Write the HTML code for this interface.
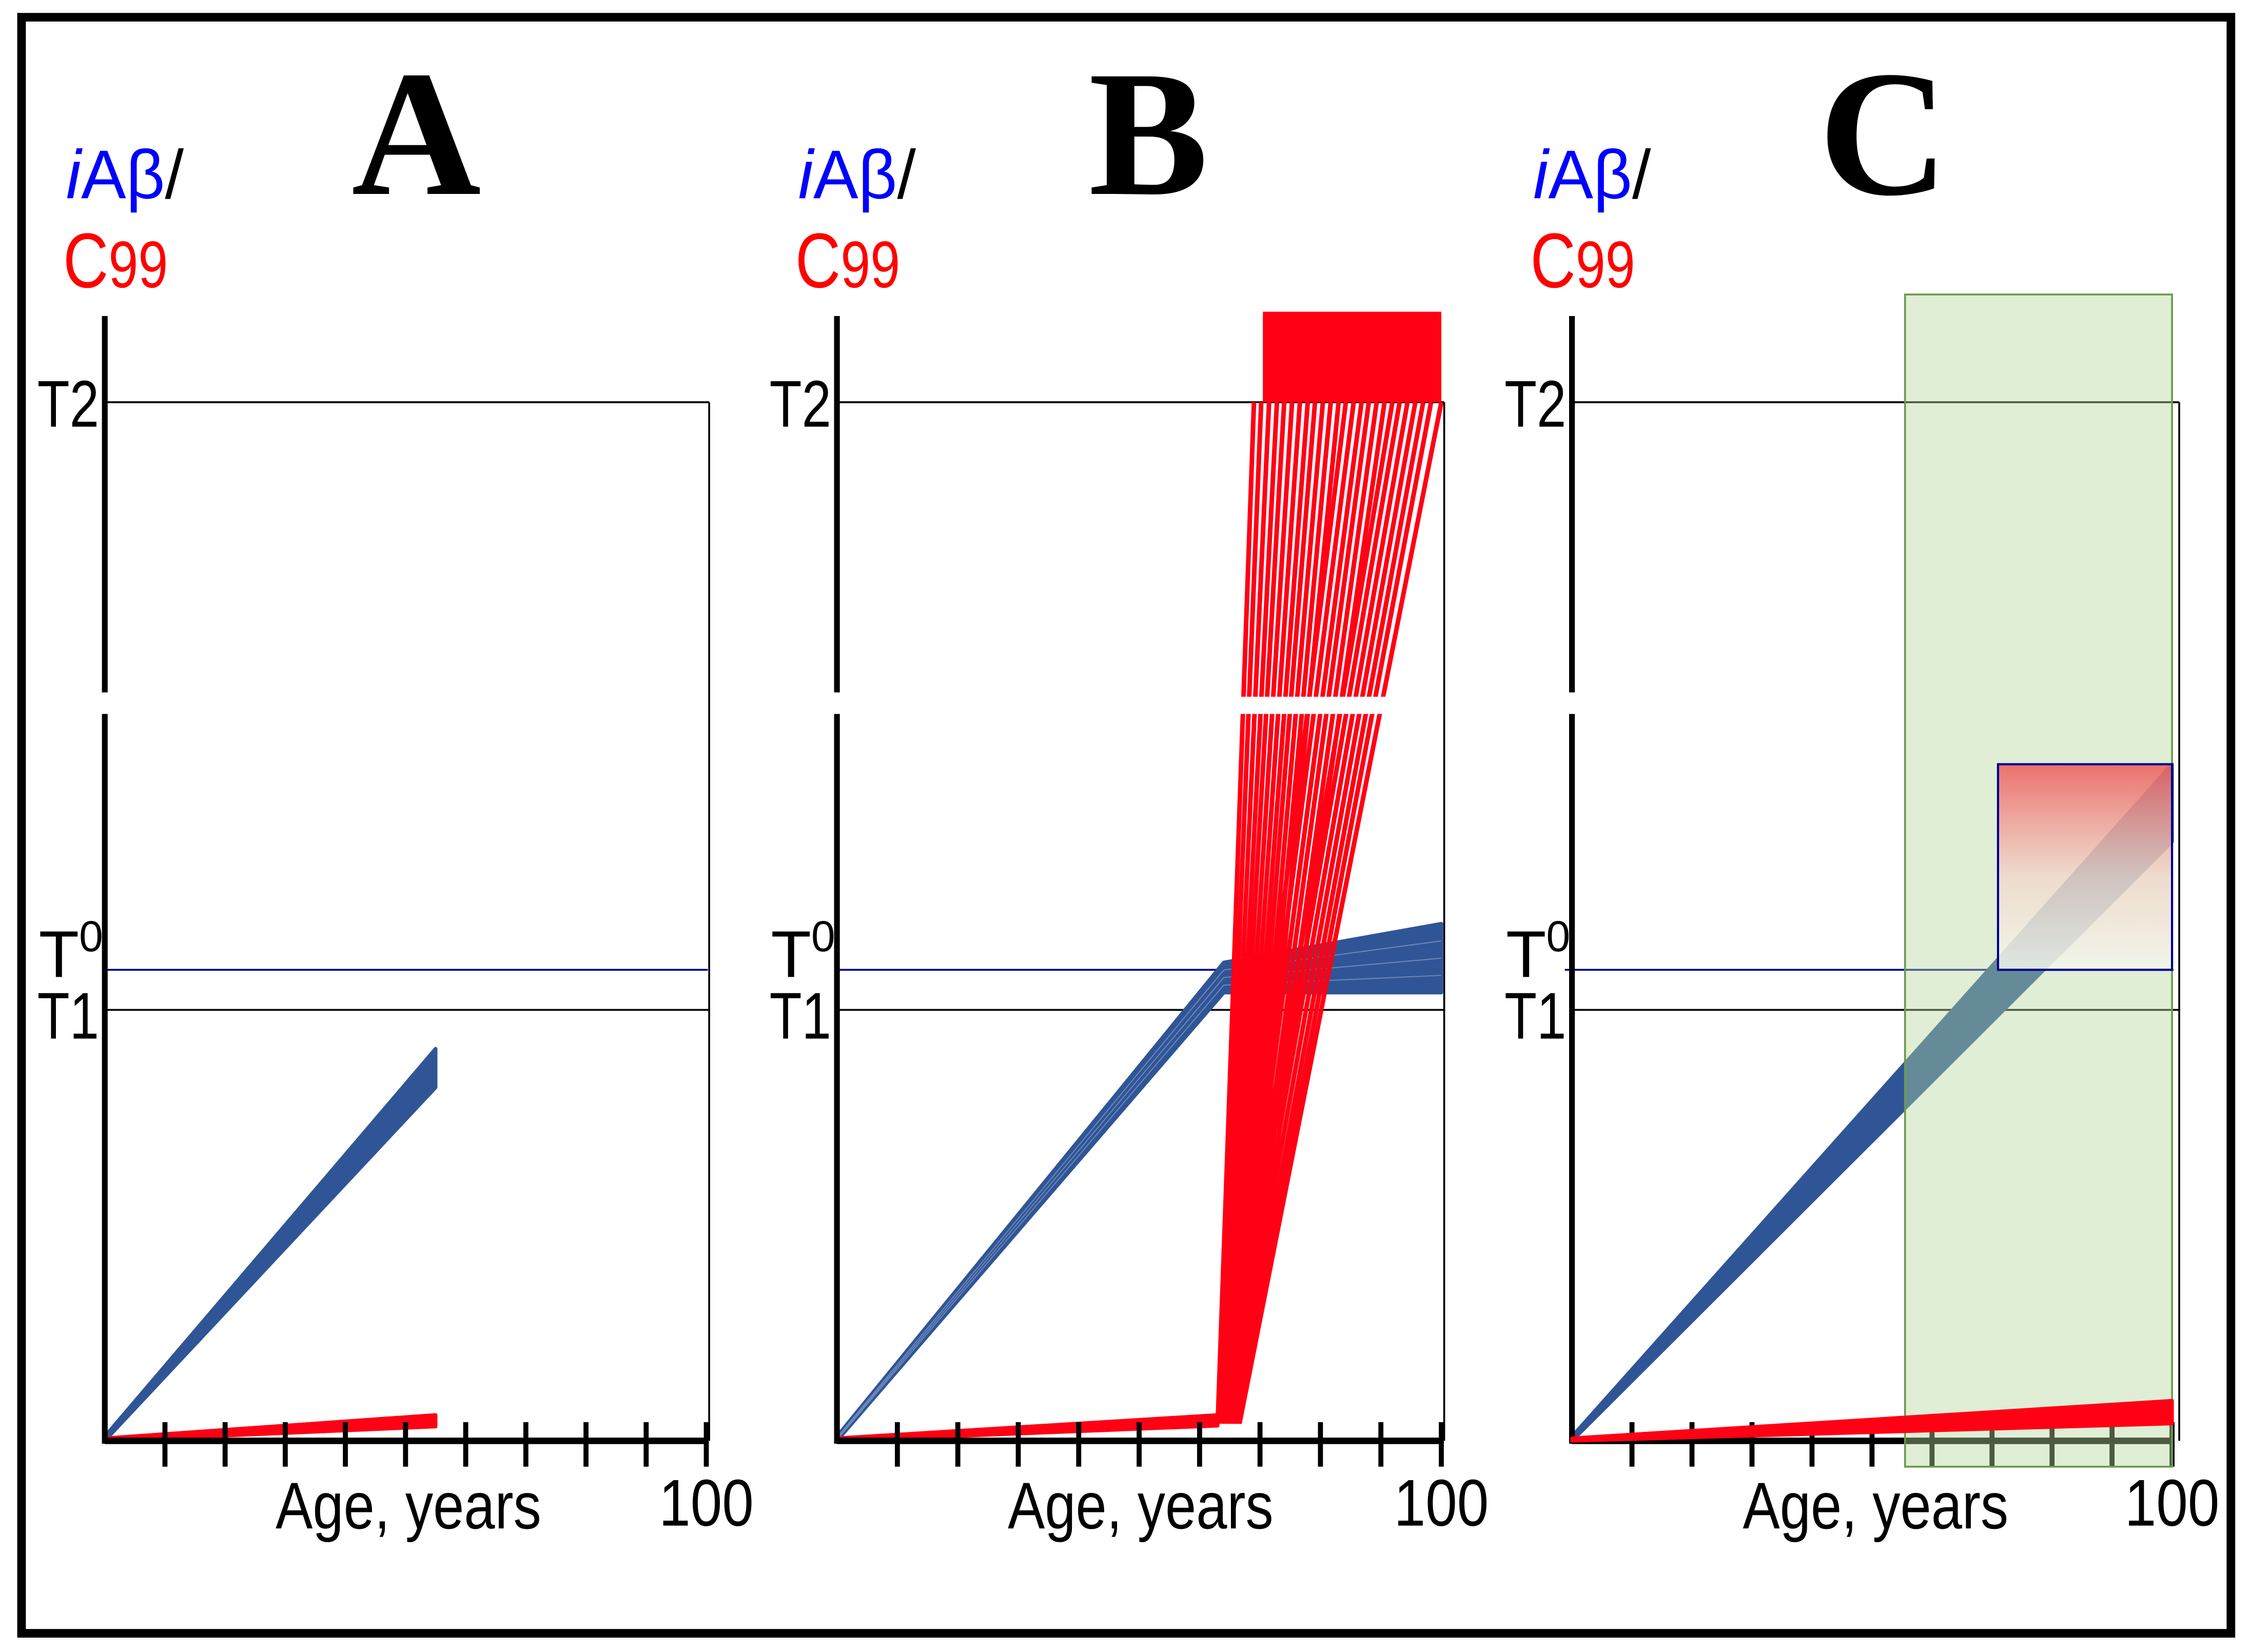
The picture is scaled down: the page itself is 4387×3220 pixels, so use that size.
<!DOCTYPE html>
<html><head><meta charset="utf-8"><style>
html,body{margin:0;padding:0;background:#fff;}
svg{display:block;}
</style></head><body>
<svg id="fig" width="4387" height="3220" viewBox="0 0 1568 1150" preserveAspectRatio="none" xmlns="http://www.w3.org/2000/svg" font-family="Liberation Sans, DejaVu Sans, sans-serif">
<defs>
<linearGradient id="boxgrad" x1="0" y1="0" x2="0" y2="1">
<stop offset="0" stop-color="#ee5a5a" stop-opacity="0.85"/>
<stop offset="0.55" stop-color="#f3d6cc" stop-opacity="0.75"/>
<stop offset="1" stop-color="#f4f8ee" stop-opacity="0.85"/>
</linearGradient>
</defs>
<rect x="15" y="12" width="1539" height="1125" fill="none" stroke="#000" stroke-width="6"/>
<g id="plots"></g>
</svg>
<script>
// ---- data ----
const panels = ['A','B','C'];
const axisX0 = [73, 583, 1095];
const axisX1 = [492, 1004, 1513];
const tickAges = [10,20,30,40,50,60,70,80,90,100];
const T1 = 1.0, T0 = 1.093, T2 = 2.41;
const aBlueAges = [0, 55];
const aBlueTop = [0.01, 0.91];
const aBlueBot = [0, 0.82];
const aRedAges = [0, 55];
const aRedTop = [0.006, 0.06];
const aRedBot = [0, 0.033];
const bBlueAges = [0, 64, 100];
const bBlueTop = [0.01, 1.11, 1.2];
const bBlueBot = [0, 1.04, 1.04];
const bRedAges = [0, 63];
const bRedTop = [0.006, 0.06];
const bRedBot = [0, 0.035];
const bFanStartAges = [63,63.3,63.6,63.9,64.2,64.5,64.8,65.1,65.4,65.7,66,66.3,63.2,63.8,64.4,65,65.6,66.2,63.5,64.1,64.7,65.3,65.9,66.4,66.6];
const bFanEndAges = [69,70.2,71.5,72.8,74,75.3,76.6,77.9,79.1,80.4,81.7,83,84.2,85.5,86.8,88,89.3,90.6,91.9,93.1,94.4,95.7,97,98.3,100];
const bFanStartVal = 0.04;
const bCapAges = [70, 100];
const bCapVals = [2.41, 2.62];
const cBlueAges = [0, 100];
const cBlueTop = [0.01, 1.57];
const cBlueBot = [0, 1.39];
const cRedAges = [0, 100];
const cRedTop = [0.006, 0.093];
const cRedBot = [0, 0.04];
const cGreenAges = [55.5, 100];
const cGreenVals = [-0.06, 2.66];
const cBoxAges = [71, 100];
const cBoxVals = [T0, 1.57];

// ---- helpers ----
const NS = 'http://www.w3.org/2000/svg';
const root = document.getElementById('plots');
function xs(p, age){ return axisX0[p] + (axisX1[p]-axisX0[p]) * age/100; }
function ys(v){ return 1003 - v*300; }
function mk(tag, attrs, parent){
  const e = document.createElementNS(NS, tag);
  for (const k in attrs) e.setAttribute(k, attrs[k]);
  (parent||root).appendChild(e);
  return e;
}
function band(p, ages, top, bot, fill){
  let pts = [];
  for (let i=0;i<ages.length;i++) pts.push(xs(p,ages[i])+','+ys(top[i]));
  for (let i=ages.length-1;i>=0;i--) pts.push(xs(p,ages[i])+','+ys(bot[i]));
  return mk('polygon',{points:pts.join(' '),fill:fill,stroke:fill,'stroke-width':2.5,'stroke-linejoin':'round'});
}
function seriesBand(p, ages, top, bot, color, name){
  const e = band(p, ages, top, bot, color);
  
  
}

panels.forEach((name,p)=>{
  const g = mk('g',{});
  
  
  const x0 = axisX0[p], x1 = axisX1[p];
  const t = mk('text',{x:x0+217,y:135,'font-size':125,'font-weight':'bold','font-family':'Liberation Serif, DejaVu Serif, serif','text-anchor':'middle'},g);
  t.textContent = name;
  
  
  const yl = mk('text',{x:x0-27,y:138,'font-size':48,textLength:82,lengthAdjust:'spacingAndGlyphs'},g);
  yl.innerHTML = '<tspan fill="#0000ff" font-style="italic">i</tspan><tspan fill="#0000ff">Aβ</tspan><tspan fill="#000">/</tspan>';
  
  
  const yl2 = mk('text',{x:x0-29,y:200,'font-size':54,fill:'#ff0000',textLength:73,lengthAdjust:'spacingAndGlyphs'},g);
  yl2.innerHTML = 'C<tspan font-size="46">99</tspan>';
  
  
  const rightEnd = p===2 ? 1518 : x1+2;
  const l2 = mk('line',{x1:x0,y1:ys(T2),x2:rightEnd,y2:ys(T2),stroke:'#000','stroke-width':1.3},g);
  
  
  const l0 = mk('line',{x1:p===2?x0-5:x0,y1:ys(T0),x2:x1+1,y2:ys(T0),stroke:'#00008b','stroke-width':1.3},g);
  
  
  const l1 = mk('line',{x1:x0,y1:ys(T1),x2:rightEnd,y2:ys(T1),stroke:'#000','stroke-width':1.3},g);
  
  
  const rl = mk('line',{x1:rightEnd,y1:ys(T2),x2:rightEnd,y2:1003,stroke:'#000','stroke-width':1.3},g);
  
  
  const labs = [['T2',ys(T2)+17,'t2'],['T1',ys(T1)+20,'t1']];
  labs.forEach(L=>{
    const e = mk('text',{x:x0-47,y:L[1],'font-size':46,textLength:43,lengthAdjust:'spacingAndGlyphs'},g);
    e.textContent = L[0];
    
    
  });
  const t0l = mk('text',{x:x0-46,y:ys(T0)+5,'font-size':46},g);
  t0l.innerHTML = 'T<tspan font-size="30" dy="-18">0</tspan>';
  
  
  const xl = mk('text',{x:x0+119,y:1064,'font-size':46,textLength:185,lengthAdjust:'spacingAndGlyphs'},g);
  xl.textContent = 'Age, years';
  
  
  const hl = mk('text',{x:x1-33,y:1062,'font-size':46,textLength:66,lengthAdjust:'spacingAndGlyphs'},g);
  hl.textContent = '100';
  
  
});

seriesBand(0, aBlueAges, aBlueTop, aBlueBot, '#2f5597', 'iabeta-band-a');
seriesBand(0, aRedAges, aRedTop, aRedBot, '#ff0015', 'c99-band-a');
seriesBand(1, bBlueAges, bBlueTop, bBlueBot, '#2f5597', 'iabeta-band-b');
for (let i=1;i<4;i++){
  const f = i/4;
  const pl = mk('polyline',{points:bBlueAges.map((a,k)=>xs(1,a)+','+ys(bBlueBot[k]+(bBlueTop[k]-bBlueBot[k])*f)).join(' '),fill:'none',stroke:'#6f88b8','stroke-width':0.7});
  
  
}
seriesBand(1, bRedAges, bRedTop, bRedBot, '#ff0015', 'c99-band-b');
for (let i=0;i<bFanStartAges.length;i++){
  const ln = mk('line',{x1:xs(1,bFanStartAges[i]),y1:ys(bFanStartVal),x2:xs(1,bFanEndAges[i]),y2:ys(T2),stroke:'#ff0015','stroke-width':3.2});
  
  
}
const cap = mk('rect',{x:xs(1,bCapAges[0])+2,y:ys(bCapVals[1]),width:xs(1,bCapAges[1])-xs(1,bCapAges[0])-2,height:ys(bCapVals[0])-ys(bCapVals[1]),fill:'#ff0015'});


const gapB = mk('rect',{x:860,y:485,width:110,height:12,fill:'#fff'});



seriesBand(2, cBlueAges, cBlueTop, cBlueBot, '#2f5597', 'iabeta-band-c');

panels.forEach((name,p)=>{
  const x0 = axisX0[p], x1 = axisX1[p];
  const ya = mk('line',{x1:x0,y1:220,x2:x0,y2:482,stroke:'#000','stroke-width':4});
  
  
  const yb = mk('line',{x1:x0,y1:497,x2:x0,y2:1005,stroke:'#000','stroke-width':4});
  
  
  const xa = mk('line',{x1:x0,y1:1003,x2:x1,y2:1003,stroke:'#000','stroke-width':4.5});
  
  
  tickAges.forEach(a=>{
    const tk = mk('line',{x1:xs(p,a),y1:990,x2:xs(p,a),y2:1021,stroke:'#000','stroke-width':3.5});
    
    
  });
});

const green = mk('rect',{x:xs(2,cGreenAges[0]),y:ys(cGreenVals[1]),width:xs(2,cGreenAges[1])-xs(2,cGreenAges[0]),height:ys(cGreenVals[0])-ys(cGreenVals[1]),fill:'#b3d69c','fill-opacity':0.42,stroke:'#6a9a4a','stroke-width':1.3});


const box = mk('rect',{x:xs(2,cBoxAges[0]),y:ys(cBoxVals[1]),width:xs(2,cBoxAges[1])-xs(2,cBoxAges[0]),height:ys(cBoxVals[0])-ys(cBoxVals[1]),fill:'url(#boxgrad)',stroke:'#00008b','stroke-width':1.5});


seriesBand(2, cRedAges, cRedTop, cRedBot, '#ff0015', 'c99-band-c');
</script>
</body></html>
